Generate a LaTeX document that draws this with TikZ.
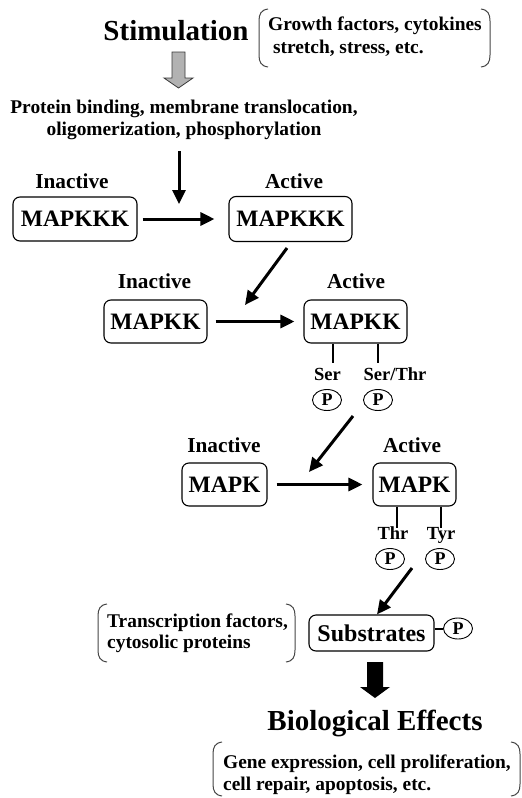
\documentclass[tikz,border=0pt]{standalone}
\usepackage{fontspec}
\setmainfont{Liberation Serif}
\usetikzlibrary{arrows.meta,shapes.geometric}
\newcommand\brkt[4]{%
\draw[brk] (#1+9,#2) .. controls (#1+2,#2+1) and (#1,#2+5) .. (#1,#2+12) -- (#1,#4-12) .. controls (#1,#4-5) and (#1+2,#4-1) .. (#1+9,#4);
\draw[brk] (#3-9,#2) .. controls (#3-2,#2+1) and (#3,#2+5) .. (#3,#2+12) -- (#3,#4-12) .. controls (#3,#4-5) and (#3-2,#4-1) .. (#3-9,#4);}
\begin{document}
\begin{tikzpicture}[x=1pt,y=-1pt,
  box/.style={draw, rounded corners=7pt, line width=1.1pt, inner sep=0pt, font=\fontsize{23.5}{28}\selectfont\bfseries},
  lbl/.style={anchor=base, inner sep=0pt, font=\fontsize{21.3}{25}\selectfont\bfseries},
  title/.style={anchor=base, inner sep=0pt, font=\fontsize{29}{34}\selectfont\bfseries},
  brtxt/.style={anchor=base west, inner sep=0pt, font=\fontsize{19.4}{23}\selectfont\bfseries},
  mid/.style={anchor=base, inner sep=0pt, font=\fontsize{19.4}{23}\selectfont\bfseries},
  site/.style={anchor=base, inner sep=0pt, font=\fontsize{18.5}{22}\selectfont\bfseries},
  pcirc/.style={ellipse, draw, line width=0.9pt, minimum width=29pt, minimum height=21pt, inner sep=0pt, font=\fontsize{18}{20}\selectfont\bfseries},
  arr/.style={line width=3pt, -{Triangle[length=14pt,width=13pt]}},
  stem/.style={line width=2pt},
  brk/.style={draw=gray!55!black, line width=1pt}]
\useasboundingbox (0,0) rectangle (522,798);
\fill[white] (0,0) rectangle (522,798);

% top
\node[title] (stim) at (176,40) {Stimulation};
\brkt{259}{9}{490}{67}
\node[brtxt] (st1) at (268,30) {Growth factors, cytokines};
\node[brtxt] (st2) at (268,53) {\ stretch, stress, etc.};
\draw[fill=gray!60, draw=gray!45!black, line width=0.8pt] (172,52) -- (185,52) -- (185,78) -- (193,78) -- (178.5,88) -- (164,78) -- (172,78) -- cycle;
\node[mid] (pb1) at (184,113) {Protein binding, membrane translocation,};
\node[mid] (pb2) at (184,135) {oligomerization, phosphorylation};

% MAPKKK
\node[lbl] (in1) at (72,188) {Inactive};
\node[lbl] (ac1) at (294,188) {Active};
\node[box, minimum width=124pt, minimum height=44pt] (kkk1) at (75,219) {MAPKKK};
\node[box, minimum width=123pt, minimum height=45pt] (kkk2) at (290.5,219) {MAPKKK};
\coordinate (dn) at (179,204);
\draw[arr] (pb2.south -| dn) ++(0,12) -- (dn);
\draw[arr, shorten <=5pt, shorten >=14pt] (kkk1) -- (kkk2);

% MAPKK
\node[lbl] (in2) at (154.5,288) {Inactive};
\node[lbl] (ac2) at (356,288) {Active};
\node[box, minimum width=103pt, minimum height=43pt] (kk1) at (155.5,321.5) {MAPKK};
\node[box, minimum width=103pt, minimum height=43pt] (kk2) at (355.5,321.5) {MAPKK};
\coordinate (d1s) at (287,248);
\coordinate (d1e) at (245,305);
\draw[arr] (d1s) -- (d1e);
\draw[arr, shorten <=8pt, shorten >=9pt] (kk1) -- (kk2);
\coordinate (sa) at (333,363);
\coordinate (sb) at (378,363);
\draw[stem] (sa |- kk2.south) -- (sa);
\draw[stem] (sb |- kk2.south) -- (sb);
\node[site] (ser) at (327.5,380) {Ser};
\node[site] (serthr) at (395,380) {Ser/Thr};
\node[pcirc] (p1) at (327,400) {P};
\node[pcirc] (p2) at (378,400) {P};

% MAPK
\node[lbl] (in3) at (224,452) {Inactive};
\node[lbl] (ac3) at (412,452) {Active};
\node[box, minimum width=85pt, minimum height=43pt] (k1) at (224.5,484.5) {MAPK};
\node[box, minimum width=83pt, minimum height=43pt] (k2) at (414.5,484.5) {MAPK};
\coordinate (d2s) at (353,416);
\coordinate (d2e) at (309,472);
\draw[arr] (d2s) -- (d2e);
\draw[arr, shorten <=9pt, shorten >=10pt] (k1) -- (k2);
\coordinate (sc) at (397,528);
\coordinate (sd) at (441,528);
\draw[stem] (sc |- k2.south) -- (sc);
\draw[stem] (sd |- k2.south) -- (sd);
\node[site] (thr) at (393,539) {Thr};
\node[site] (tyr) at (441,539) {Tyr};
\node[pcirc] (p3) at (390,559) {P};
\node[pcirc] (p4) at (440,559) {P};

% substrates
\node[box, minimum width=125pt, minimum height=36pt, font=\fontsize{24}{28}\selectfont\bfseries] (sub) at (371.5,633) {Substrates};
\coordinate (d3s) at (412,568);
\draw[arr] (d3s) -- (sub.north -| 377,0);
\node[pcirc] (p5) at (458,628.5) {P};
\draw[stem] (sub.east |- p5.west) -- (p5.west);
\brkt{98}{604}{295}{662}
\node[brtxt] (tf1) at (107,627) {Transcription factors,};
\node[brtxt] (tf2) at (107,648) {cytosolic proteins};

% effects
\fill (367,662) -- (383,662) -- (383,687) -- (390,687) -- (375,698) -- (360,687) -- (367,687) -- cycle;
\node[title] (bio) at (375,730) {Biological Effects};
\brkt{213}{742}{520}{796}
\node[brtxt] (ge1) at (223,768) {Gene expression, cell proliferation,};
\node[brtxt] (ge2) at (223,790) {cell repair, apoptosis, etc.};
\end{tikzpicture}
\end{document}
